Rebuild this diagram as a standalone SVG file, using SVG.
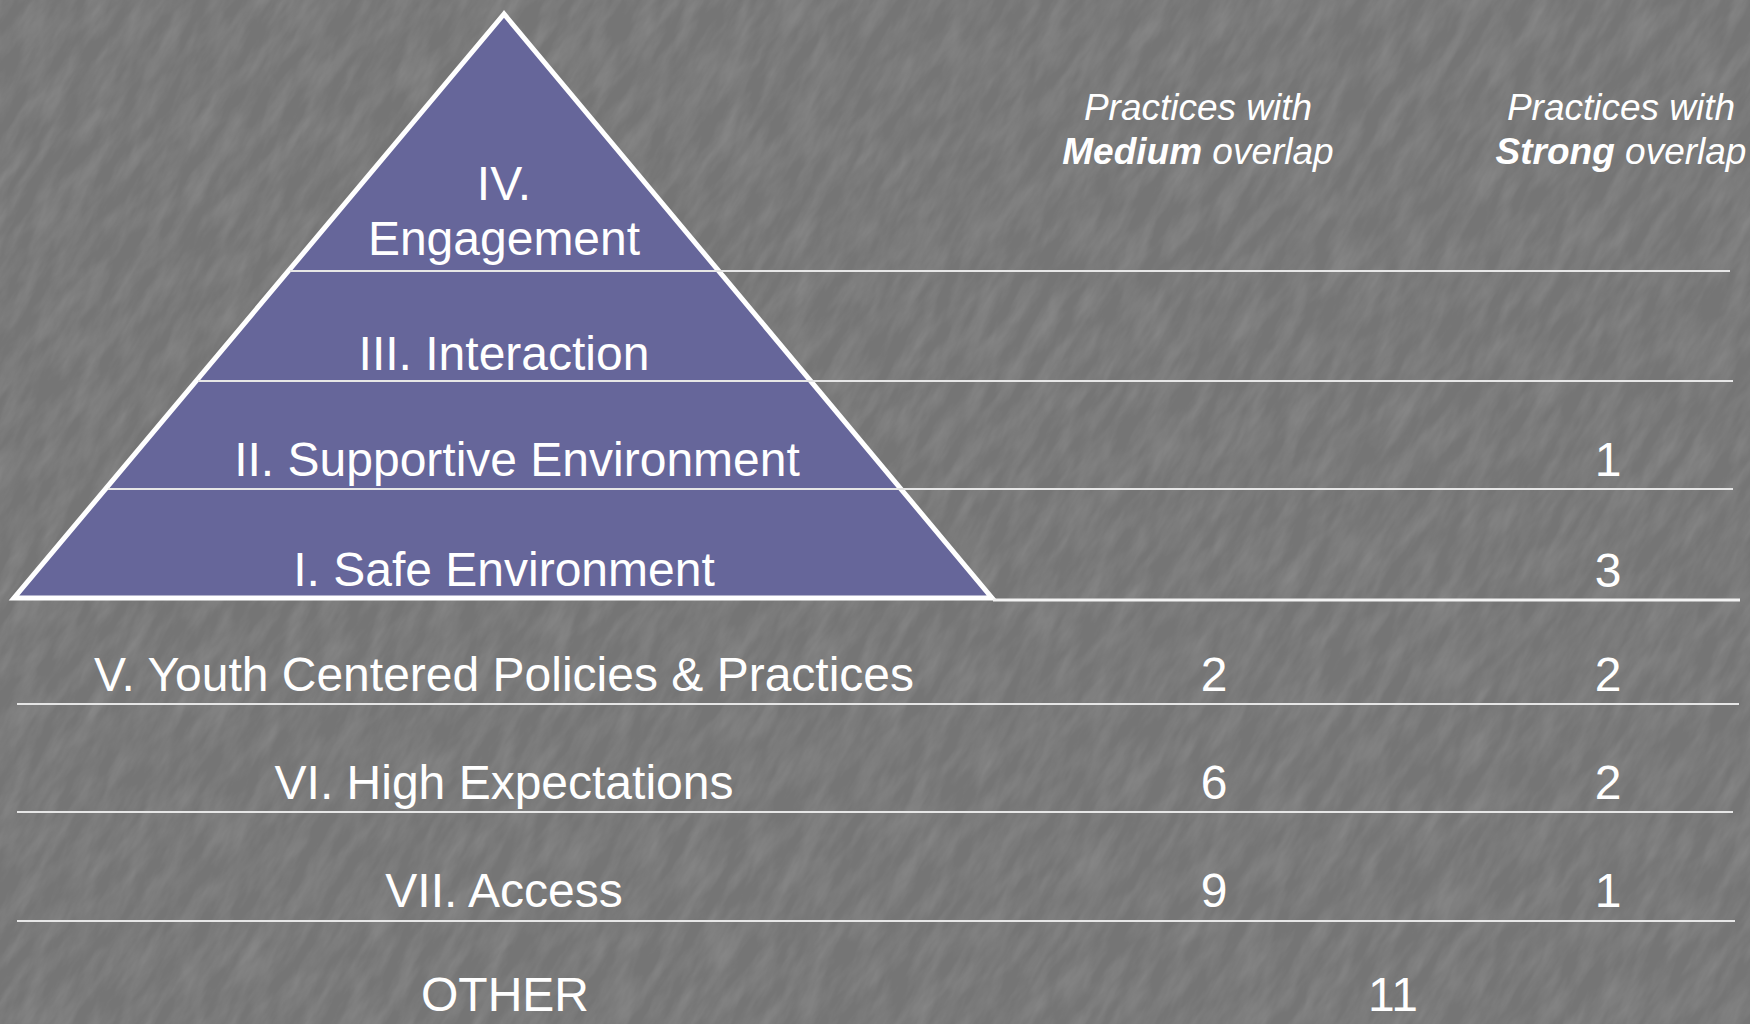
<svg xmlns="http://www.w3.org/2000/svg" width="1750" height="1024" viewBox="0 0 1750 1024">
<defs>
<filter id="tex" x="0" y="0" width="100%" height="100%">
<feTurbulence type="fractalNoise" baseFrequency="0.02 0.07" numOctaves="4" seed="7" result="n"/>
<feColorMatrix in="n" type="matrix" values="0 0 0 0 0.55  0 0 0 0 0.55  0 0 0 0 0.55  1.2 0 0 0 -0.4"/>
</filter>
<style>
.t{font-family:"Liberation Sans",Arial,sans-serif;fill:#ffffff;text-anchor:middle}
.big{font-size:48px}
.hd{font-size:37px;font-style:italic}
.rule{stroke:#e6e6e6;stroke-width:2;fill:none}
.base{stroke:#f2f2f2;stroke-width:3;fill:none}
</style>
</defs>
<rect width="1750" height="1024" fill="#757575"/>
<g transform="rotate(-60 875 512)" opacity="0.32">
<rect x="-1200" y="-1200" width="4150" height="3424" filter="url(#tex)"/>
</g>

<g id="pyramid">
<polygon points="504,14 14,598 992,598" fill="#66669a" stroke="#ffffff" stroke-width="5" stroke-linejoin="miter"/>
</g>

<g id="connectors">
<line class="rule" x1="290" y1="271" x2="1730" y2="271"/>
<line class="rule" x1="198" y1="381" x2="1733" y2="381"/>
<line class="rule" x1="108" y1="489" x2="1733" y2="489"/>
<line class="base" x1="993" y1="600" x2="1740" y2="600"/>
<line class="rule" x1="17" y1="704" x2="1739" y2="704"/>
<line class="rule" x1="17" y1="812" x2="1733" y2="812"/>
<line class="rule" x1="17" y1="921" x2="1735" y2="921"/>
</g>

<g id="header-medium">
<text class="t hd" x="1198" y="120">Practices with</text>
<text class="t hd" x="1198" y="164"><tspan font-weight="bold">Medium</tspan> overlap</text>
</g>
<g id="header-strong">
<text class="t hd" x="1621" y="120">Practices with</text>
<text class="t hd" x="1621" y="164"><tspan font-weight="bold">Strong</tspan> overlap</text>
</g>

<g id="level-iv">
<text class="t big" x="504" y="200">IV.</text>
<text class="t big" x="504" y="255">Engagement</text>
</g>
<g id="level-iii">
<text class="t big" x="504" y="370">III. Interaction</text>
</g>
<g id="level-ii">
<text class="t big" x="517" y="476">II. Supportive Environment</text>
<text class="t big" x="1608" y="476">1</text>
</g>
<g id="level-i">
<text class="t big" x="504" y="586">I. Safe Environment</text>
<text class="t big" x="1608" y="587">3</text>
</g>
<g id="level-v">
<text class="t big" x="504" y="691">V. Youth Centered Policies &amp; Practices</text>
<text class="t big" x="1214" y="691">2</text>
<text class="t big" x="1608" y="691">2</text>
</g>
<g id="level-vi">
<text class="t big" x="504" y="799">VI. High Expectations</text>
<text class="t big" x="1214" y="799">6</text>
<text class="t big" x="1608" y="799">2</text>
</g>
<g id="level-vii">
<text class="t big" x="504" y="907">VII. Access</text>
<text class="t big" x="1214" y="907">9</text>
<text class="t big" x="1608" y="907">1</text>
</g>
<g id="other">
<text class="t big" x="505" y="1011">OTHER</text>
<text class="t big" x="1393" y="1011">11</text>
</g>
</svg>
